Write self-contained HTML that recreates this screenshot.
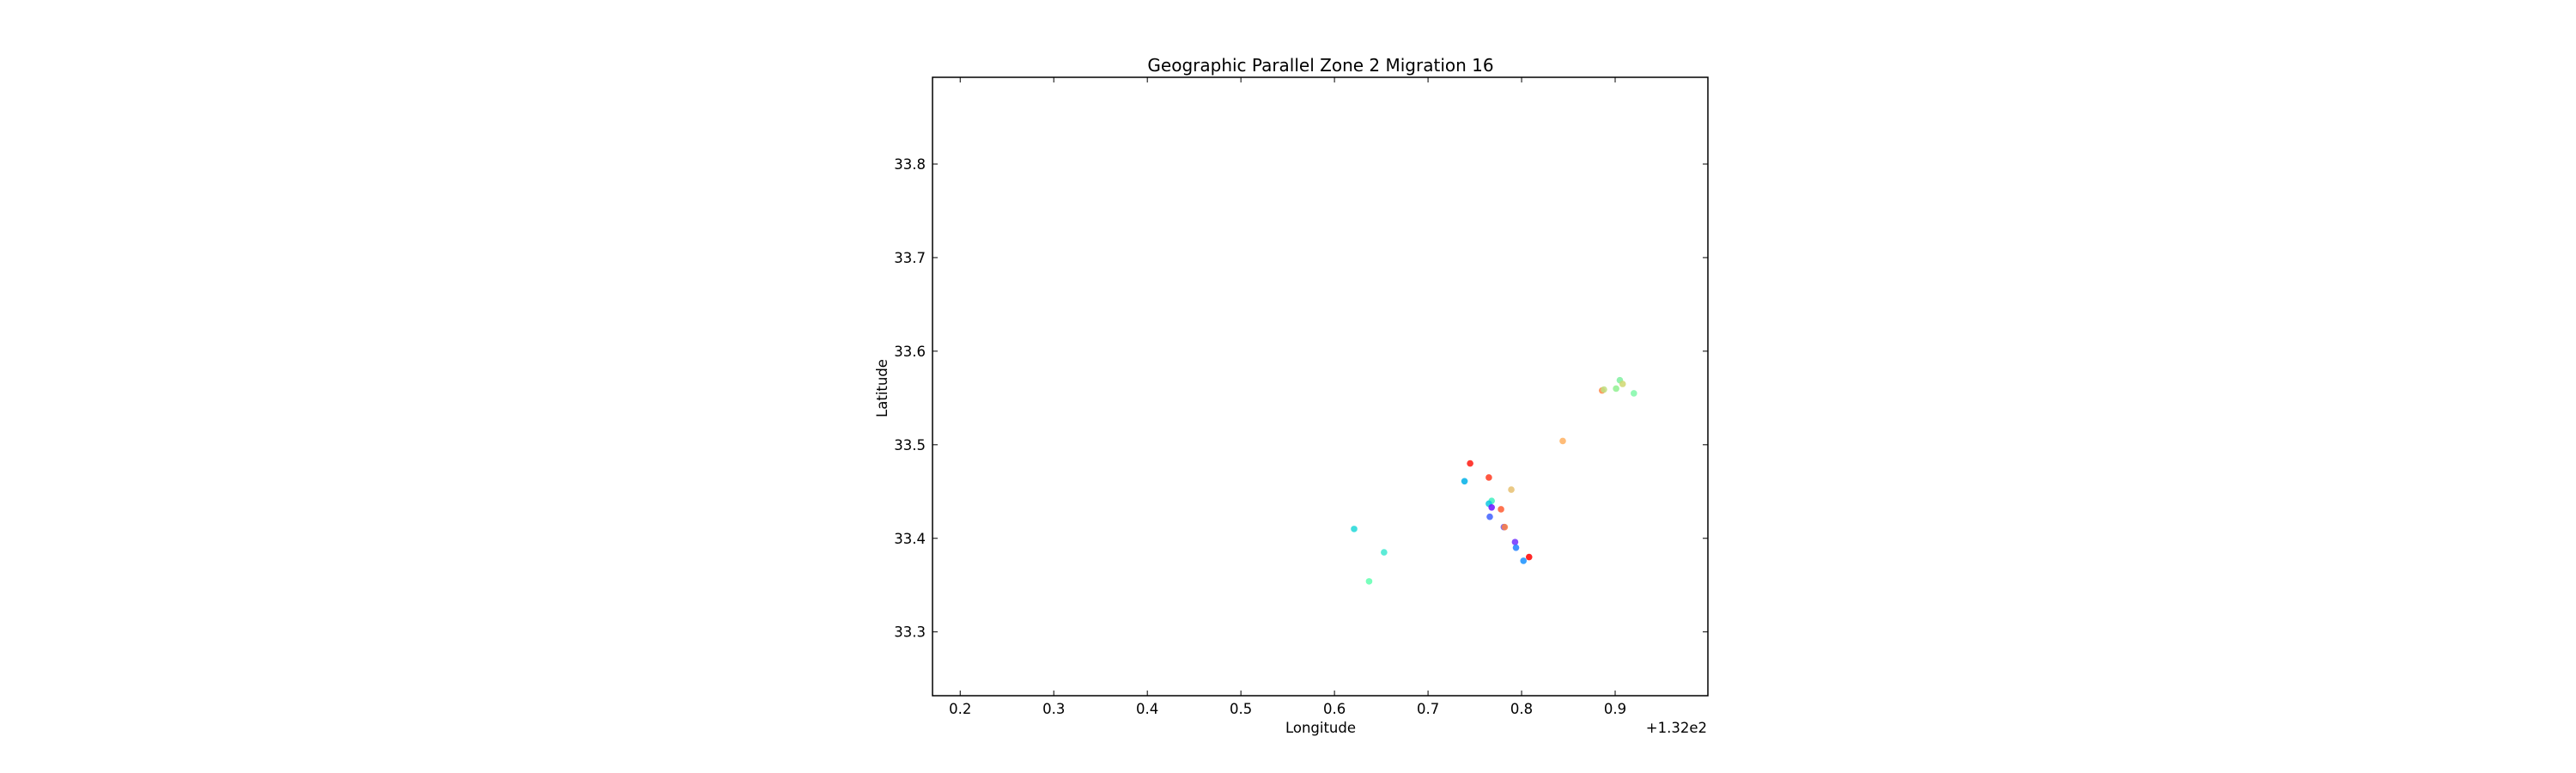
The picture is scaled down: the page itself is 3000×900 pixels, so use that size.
<!DOCTYPE html>
<html><head><meta charset="utf-8"><style>
html,body{margin:0;padding:0;background:#fff;width:3000px;height:900px;overflow:hidden}
svg text{font-family:"DejaVu Sans","Liberation Sans",sans-serif;fill:#000}
</style></head><body>
<svg id="chart" width="3000" height="900" xmlns="http://www.w3.org/2000/svg"></svg>
<script>
const lonValues=[0.745,0.765,0.739,0.789,0.768,0.765,0.768,0.778,0.766,0.781,0.782,0.793,0.794,0.808,0.802,0.621,0.653,0.637,0.844,0.886,0.888,0.901,0.905,0.908,0.920];
const latValues=[33.480,33.465,33.461,33.452,33.440,33.437,33.433,33.431,33.423,33.412,33.412,33.396,33.390,33.380,33.376,33.410,33.385,33.354,33.504,33.558,33.559,33.560,33.569,33.565,33.555];
const pointColors=["#ff1a10","#ff3a20","#00b0e8","#e6c070","#40f0c0","#10c8e0","#7010ff","#ff5a30","#4060ff","#6050ff","#ff8040","#7030ff","#2080ff","#ff0000","#1890ff","#20d8d8","#40e8d0","#60ffb0","#ffb060","#ff8848","#c0e080","#90f090","#80f0a0","#d0d870","#80f8a8"];
const xTicks=[0.2,0.3,0.4,0.5,0.6,0.7,0.8,0.9];
const xTickLabels=["0.2","0.3","0.4","0.5","0.6","0.7","0.8","0.9"];
const yTicks=[33.3,33.4,33.5,33.6,33.7,33.8];
const yTickLabels=["33.3","33.4","33.5","33.6","33.7","33.8"];
const L=1086,R=1989,T=90,B=810;
const xMin=0.1704,xMax=0.9991,yMin=33.2318,yMax=33.8927;
const sx=v=>L+(v-xMin)/(xMax-xMin)*(R-L);
const sy=v=>B-(v-yMin)/(yMax-yMin)*(B-T);
const svg=document.getElementById('chart');
const NS="http://www.w3.org/2000/svg";
function mk(tag,attrs,parent){const e=document.createElementNS(NS,tag);for(const k in attrs)e.setAttribute(k,attrs[k]);(parent||svg).appendChild(e);return e;}
let t=mk('text',{x:1538,y:83,'font-size':20,'text-anchor':'middle'});


t.textContent='Geographic Parallel Zone 2 Migration 16';
const pts=mk('g',{});


for(let i=0;i<lonValues.length;i++){
  const c=mk('circle',{cx:sx(lonValues[i]),cy:sy(latValues[i]),r:3.8,fill:pointColors[i],'fill-opacity':0.85},pts);
  
  
}
const frame=mk('rect',{x:L,y:T,width:R-L,height:B-T,fill:'none',stroke:'#000','stroke-width':1.5});


xTicks.forEach((v,i)=>{
  const x=sx(v);
  mk('line',{x1:x,y1:B,x2:x,y2:B-6,stroke:'#000','stroke-width':1});
  mk('line',{x1:x,y1:T,x2:x,y2:T+6,stroke:'#000','stroke-width':1});
  const tl=mk('text',{x:x,y:831,'font-size':16.5,'text-anchor':'middle'});
  
  
  tl.textContent=xTickLabels[i];
});
yTicks.forEach((v,i)=>{
  const y=sy(v);
  mk('line',{x1:L,y1:y,x2:L+6,y2:y,stroke:'#000','stroke-width':1});
  mk('line',{x1:R,y1:y,x2:R-6,y2:y,stroke:'#000','stroke-width':1});
  const tl=mk('text',{x:1078,y:y+6,'font-size':16.5,'text-anchor':'end'});
  
  
  tl.textContent=yTickLabels[i];
});
t=mk('text',{x:1988,y:853,'font-size':16.5,'text-anchor':'end'});


t.textContent='+1.32e2';
t=mk('text',{x:1538,y:853,'font-size':16.5,'text-anchor':'middle'});


t.textContent='Longitude';
t=mk('text',{x:0,y:0,'font-size':16.5,'text-anchor':'middle',transform:'translate(1033,452) rotate(-90)'});


t.textContent='Latitude';
</script>
</body></html>
